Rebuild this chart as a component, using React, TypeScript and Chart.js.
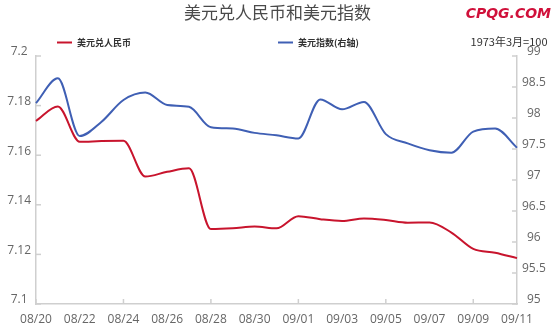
import React, { useEffect, useRef } from "react";
import { Chart, registerables } from "chart.js";

Chart.register(...registerables);

const categories = [
  "08/20", "08/21", "08/22", "08/23", "08/24", "08/25", "08/26", "08/27",
  "08/28", "08/29", "08/30", "08/31", "09/01", "09/02", "09/03", "09/04",
  "09/05", "09/06", "09/07", "09/08", "09/09", "09/10", "09/11",
];

const usdCny = [
  7.1738, 7.1796, 7.1654, 7.1657, 7.1658, 7.1514, 7.1533, 7.1547,
  7.1302, 7.1305, 7.1312, 7.1305, 7.1354, 7.1342, 7.1335, 7.1345,
  7.1339, 7.1328, 7.1329, 7.1288, 7.1222, 7.1207, 7.1185,
];

const usdIndex = [
  98.24, 98.64, 97.71, 97.94, 98.29, 98.41, 98.21, 98.18,
  97.85, 97.83, 97.76, 97.72, 97.67, 98.30, 98.14, 98.26,
  97.74, 97.59, 97.48, 97.44, 97.78, 97.83, 97.52,
];

const leftAxis = { min: 7.1, max: 7.2, step: 0.02 };
const rightAxis = { min: 95, max: 99, step: 0.5 };

const seriesNames = ["美元兑人民币", "美元指数(右轴)"];
const titleText = "美元兑人民币和美元指数";
const brandText = "CPQG.COM";
const noteText = "1973年3月=100";

const RED = "#c8142d";
const BLUE = "#3f5fb4";
const AXIS = "#cfcfcf";
const TICK_TEXT = "#666";
const FONT = "'Open Sans', 'Noto Sans', sans-serif";
const CJK = "'Noto Sans CJK SC', 'Open Sans', sans-serif";

const fmt = (v: any) => String(Number(Number(v).toFixed(4)));

const decorPlugin = {
  id: "decor",
  afterDatasetsDraw(chart: any) {
    const ctx = chart.ctx;
    const { left, right, bottom } = chart.chartArea;
    ctx.save();
    ctx.strokeStyle = AXIS;
    ctx.lineWidth = 1.5;
    const yl = chart.scales.y;
    yl.ticks.forEach((_t: any, i: number) => {
      const p = yl.getPixelForTick(i);
      ctx.beginPath();
      ctx.moveTo(left, p);
      ctx.lineTo(left + 5, p);
      ctx.stroke();
    });
    const yr = chart.scales.y1;
    yr.ticks.forEach((_t: any, i: number) => {
      const p = yr.getPixelForTick(i);
      ctx.beginPath();
      ctx.moveTo(right - 5, p);
      ctx.lineTo(right, p);
      ctx.stroke();
    });
    const xs = chart.scales.x;
    xs.ticks.forEach((_t: any, i: number) => {
      if (i % 2 !== 0) return;
      const p = xs.getPixelForTick(i);
      ctx.beginPath();
      ctx.moveTo(p, bottom);
      ctx.lineTo(p, bottom - 5);
      ctx.stroke();
    });
    ctx.restore();
  },
  afterDraw(chart: any) {
    const ctx = chart.ctx;
    ctx.save();
    ctx.fillStyle = "#4a4a4a";
    ctx.font = `17px ${CJK}`;
    ctx.textAlign = "center";
    ctx.textBaseline = "middle";
    ctx.fillText(titleText, 277.5, 12.5);
    ctx.fillStyle = "#d0103a";
    ctx.font = `italic bold 14px 'DejaVu Sans', sans-serif`;
    ctx.textAlign = "right";
    ctx.fillText(brandText, 551, 14);
    const items = [
      { x: 57, ds: chart.data.datasets[0] },
      { x: 278, ds: chart.data.datasets[1] },
    ];
    items.forEach(({ x, ds }) => {
      ctx.strokeStyle = ds.borderColor;
      ctx.lineWidth = 2;
      ctx.beginPath();
      ctx.moveTo(x, 42.5);
      ctx.lineTo(x + 15, 42.5);
      ctx.stroke();
      ctx.fillStyle = "#333";
      ctx.font = `bold 9px ${CJK}`;
      ctx.textAlign = "left";
      ctx.fillText(ds.label, x + 20, 42.5);
    });
    ctx.fillStyle = "#333";
    ctx.font = `11px ${CJK}`;
    ctx.textAlign = "right";
    ctx.fillText(noteText, 547.5, 42);
    ctx.restore();
  },
};

export default function App() {
  const ref = useRef<HTMLCanvasElement | null>(null);
  useEffect(() => {
    if (!ref.current) return;
    const tickFont = { family: FONT, size: 12 };
    const chart = new Chart(ref.current, {
      type: "line",
      data: {
        labels: categories,
        datasets: [
          {
            label: seriesNames[0],
            data: usdCny,
            borderColor: RED,
            backgroundColor: RED,
            borderWidth: 2,
            pointRadius: 0,
            cubicInterpolationMode: "monotone",
            yAxisID: "y",
          },
          {
            label: seriesNames[1],
            data: usdIndex,
            borderColor: BLUE,
            backgroundColor: BLUE,
            borderWidth: 2,
            pointRadius: 0,
            cubicInterpolationMode: "monotone",
            yAxisID: "y1",
          },
        ],
      },
      options: {
        responsive: false,
        animation: false,
        layout: { padding: { top: 56, left: 0, right: 0, bottom: 0 } },
        plugins: {
          legend: { display: false },
          title: { display: false },
          tooltip: { enabled: false },
        },
        scales: {
          x: {
            offset: false,
            grid: { display: true, drawOnChartArea: false, drawTicks: false },
            border: { display: true, color: AXIS, width: 1.5 },
            ticks: {
              autoSkip: false,
              maxRotation: 0,
              padding: 8,
              color: TICK_TEXT,
              font: tickFont,
              callback: (_v: any, i: number) => (i % 2 === 0 ? categories[i] : null),
            },
            afterFit: (s: any) => {
              s.height = 26;
            },
          },
          y: {
            position: "left",
            min: leftAxis.min,
            max: leftAxis.max,
            grid: { display: true, drawOnChartArea: false, drawTicks: false },
            border: { display: true, color: AXIS, width: 1.5 },
            ticks: {
              stepSize: leftAxis.step,
              crossAlign: "center",
              padding: 5,
              labelOffset: -4,
              color: TICK_TEXT,
              font: tickFont,
              callback: fmt,
            },
            afterFit: (s: any) => {
              s.width = 36;
            },
          },
          y1: {
            position: "right",
            min: rightAxis.min,
            max: rightAxis.max,
            grid: { display: true, drawOnChartArea: false, drawTicks: false },
            border: { display: true, color: AXIS, width: 1.5 },
            ticks: {
              stepSize: rightAxis.step,
              crossAlign: "center",
              padding: 5,
              labelOffset: -4,
              color: TICK_TEXT,
              font: tickFont,
              callback: fmt,
            },
            afterFit: (s: any) => {
              s.width = 37;
            },
          },
        },
      },
      plugins: [decorPlugin],
    } as any);
    return () => chart.destroy();
  }, []);
  return (
    <div style={{ position: "fixed", left: 0, top: 0, width: 554, height: 330, background: "#fff" }}>
      <canvas ref={ref} width={554} height={330} />
    </div>
  );
}
